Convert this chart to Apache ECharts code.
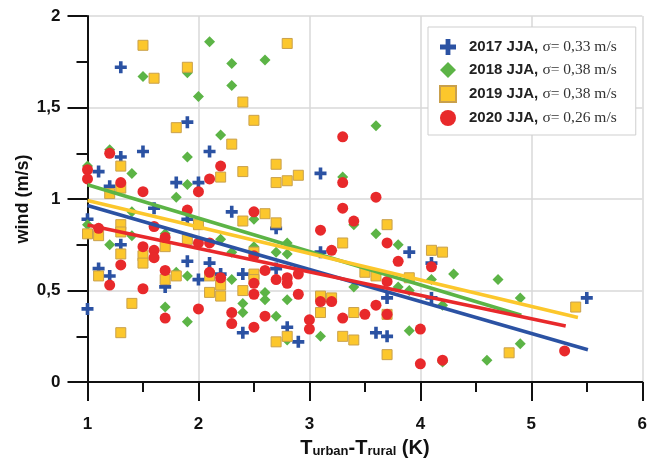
<!DOCTYPE html>
<html>
<head>
<meta charset="utf-8">
<script src="https://cdn.jsdelivr.net/npm/echarts@6/dist/echarts.min.js"></script>
<style>
  html, body { margin: 0; padding: 0; background: #ffffff; }
  #chart { width: 650px; height: 463px; }
</style>
</head>
<body>
<div id="chart"></div>
<script>
// Summer (JJA) wind speed against urban heat island intensity
const seriesNames = ['2017 JJA', '2018 JJA', '2019 JJA', '2020 JJA'];
const sigmaTexts = ['σ= 0,33 m/s', 'σ= 0,38 m/s', 'σ= 0,38 m/s', 'σ= 0,26 m/s'];

const xTickValues = [1, 2, 3, 4, 5, 6];
const xTickLabels = ['1', '2', '3', '4', '5', '6'];
const yTickValues = [0, 0.5, 1, 1.5, 2];
const yTickLabels = ['0', '0,5', '1', '1,5', '2'];

// [Turban - Trural (K), wind (m/s)]
const wind2017 = [
  [1.0, 0.40], [1.0, 0.89], [1.1, 0.62], [1.1, 1.15], [1.2, 0.58], [1.2, 1.07],
  [1.3, 1.72], [1.3, 1.23], [1.3, 0.75], [1.5, 1.26], [1.6, 0.95], [1.7, 0.52],
  [1.8, 1.09], [1.9, 1.42], [1.9, 0.89], [1.9, 0.66], [2.0, 1.09], [2.0, 0.56],
  [2.1, 1.26], [2.1, 0.65], [2.2, 0.59], [2.3, 0.93], [2.4, 0.59], [2.4, 0.27],
  [2.7, 0.84], [2.7, 0.62], [2.8, 0.30], [2.9, 0.22], [3.1, 1.14], [3.1, 0.71],
  [3.6, 0.27], [3.7, 0.46], [3.7, 0.25], [3.9, 0.71], [4.1, 0.46], [4.1, 0.65],
  [5.5, 0.46]
];
const wind2018 = [
  [1.0, 1.18], [1.0, 0.86], [1.2, 1.27], [1.2, 0.75], [1.4, 1.14], [1.4, 0.93],
  [1.4, 0.80], [1.5, 1.67], [1.7, 0.81], [1.7, 0.41], [1.8, 1.01], [1.8, 0.60],
  [1.9, 1.69], [1.9, 1.23], [1.9, 1.08], [1.9, 0.58], [1.9, 0.33], [2.0, 1.56],
  [2.1, 1.86], [2.2, 1.35], [2.2, 0.78], [2.3, 1.74], [2.3, 1.62], [2.3, 0.71],
  [2.3, 0.56], [2.4, 0.43], [2.4, 0.38], [2.5, 0.89], [2.5, 0.74], [2.6, 1.76],
  [2.6, 0.49], [2.6, 0.45], [2.7, 0.71], [2.7, 0.36], [2.8, 0.76], [2.8, 0.70],
  [2.8, 0.45], [2.8, 0.23], [3.1, 0.25], [3.3, 1.12], [3.4, 0.86], [3.4, 0.52],
  [3.6, 1.40], [3.6, 0.81], [3.8, 0.75], [3.8, 0.52], [3.9, 0.50], [3.9, 0.28],
  [4.1, 0.56], [4.2, 0.42], [4.2, 0.11], [4.3, 0.59], [4.6, 0.12], [4.7, 0.56],
  [4.9, 0.46], [4.9, 0.21]
];
const wind2019 = [
  [1.0, 0.81], [1.1, 0.80], [1.1, 0.58], [1.2, 1.03], [1.3, 1.18], [1.3, 1.06],
  [1.3, 0.86], [1.3, 0.82], [1.3, 0.70], [1.3, 0.27], [1.4, 0.43], [1.5, 1.84],
  [1.5, 0.69], [1.5, 0.65], [1.6, 1.66], [1.7, 0.74], [1.7, 0.56], [1.8, 1.39],
  [1.8, 0.58], [1.9, 1.72], [1.9, 0.78], [2.0, 0.86], [2.1, 0.58], [2.1, 0.49],
  [2.2, 1.12], [2.2, 0.53], [2.2, 0.47], [2.3, 1.30], [2.4, 1.53], [2.4, 1.15],
  [2.4, 0.88], [2.4, 0.50], [2.5, 1.43], [2.5, 0.71], [2.5, 0.59], [2.5, 0.56],
  [2.6, 0.92], [2.7, 1.19], [2.7, 1.09], [2.7, 0.87], [2.7, 0.22], [2.8, 1.85],
  [2.8, 1.10], [2.8, 0.25], [2.9, 1.13], [3.1, 0.47], [3.1, 0.38], [3.2, 0.46],
  [3.3, 0.76], [3.3, 0.25], [3.4, 0.38], [3.4, 0.23], [3.5, 0.60], [3.6, 0.58],
  [3.7, 0.86], [3.7, 0.37], [3.7, 0.15], [3.9, 0.57], [4.1, 0.72], [4.2, 0.71],
  [4.8, 0.16], [5.4, 0.41]
];
const wind2020 = [
  [1.0, 1.16], [1.0, 1.11], [1.1, 0.84], [1.2, 1.25], [1.2, 0.53], [1.3, 1.09],
  [1.3, 0.64], [1.5, 1.04], [1.5, 0.74], [1.5, 0.51], [1.6, 0.85], [1.6, 0.72],
  [1.6, 0.68], [1.7, 0.79], [1.7, 0.61], [1.7, 0.35], [1.9, 0.94], [2.0, 1.04],
  [2.0, 0.76], [2.0, 0.40], [2.1, 1.11], [2.1, 0.76], [2.1, 0.60], [2.2, 1.18],
  [2.2, 0.57], [2.3, 0.38], [2.3, 0.32], [2.5, 0.93], [2.5, 0.69], [2.5, 0.54],
  [2.5, 0.48], [2.5, 0.30], [2.6, 0.61], [2.6, 0.36], [2.7, 0.56], [2.8, 0.57],
  [2.8, 0.54], [2.9, 0.59], [2.9, 0.48], [3.0, 0.34], [3.0, 0.29], [3.1, 0.83],
  [3.1, 0.44], [3.2, 0.72], [3.2, 0.44], [3.3, 1.34], [3.3, 1.09], [3.3, 0.95],
  [3.3, 0.35], [3.4, 0.88], [3.5, 0.37], [3.6, 1.01], [3.6, 0.42], [3.7, 0.76],
  [3.7, 0.55], [3.7, 0.37], [3.8, 0.66], [4.0, 0.29], [4.0, 0.10], [4.1, 0.63],
  [4.2, 0.12], [5.3, 0.17]
];

// Linear fit end points for each summer
const fit2017 = [[1.0, 0.965], [5.51, 0.177]];
const fit2018 = [[1.0, 1.078], [4.91, 0.365]];
const fit2019 = [[1.0, 0.992], [5.42, 0.353]];
const fit2020 = [[1.0, 0.858], [5.31, 0.306]];

const colors = ['#2b52a3', '#5cb446', '#fcc72c', '#e8292b'];
// Marker outlines as paths so the legend keeps their proportions
const plusPath = 'path://M3.5,0h3v3.5h3.5v3h-3.5v3.5h-3v-3.5h-3.5v-3h3.5z';
const diamondPath = 'path://M5,0L10,5L5,10L0,5Z';
const squarePath = 'path://M0,0H10V10H0Z';

const chart = echarts.init(document.getElementById('chart'), null, { renderer: 'canvas' });

function scatter(name, data, symbol, size, itemStyle) {
  return {
    name: name,
    type: 'scatter',
    data: data,
    symbol: symbol,
    symbolSize: size,
    itemStyle: Object.assign({ opacity: 1 }, itemStyle),
    z: 2
  };
}
function fitLine(name, data, color, z) {
  return {
    name: name,
    type: 'line',
    data: data,
    showSymbol: false,
    symbol: 'none',
    lineStyle: { color: color, width: 3.5 },
    z: z,
    silent: true
  };
}

const option = {
  animation: false,
  backgroundColor: '#ffffff',
  grid: { left: 87.5, right: 6, top: 16, bottom: 75 },
  xAxis: {
    type: 'value',
    min: 1, max: 6, interval: 1,
    axisLine: { show: true, onZero: false, lineStyle: { color: '#111', width: 2 } },
    axisTick: { show: true, length: 19, lineStyle: { color: '#111', width: 2 } },
    minorTick: { show: true, splitNumber: 2, length: 10, lineStyle: { color: '#111', width: 2 } },
    splitLine: { show: true, lineStyle: { color: '#d9d9d9', width: 1.5 } },
    axisLabel: {
      margin: 34,
      fontFamily: 'Liberation Sans', fontWeight: 'bold', fontSize: 17, color: '#111',
      formatter: v => { const i = xTickValues.indexOf(v); return i >= 0 ? xTickLabels[i] : ''; }
    },
    name: '{t|T}{s|urban}{t|-T}{s|rural}{t| (K)}',
    nameLocation: 'middle',
    nameGap: 50,
    nameTextStyle: {
      rich: {
        t: { fontFamily: 'Liberation Sans', fontWeight: 'bold', fontSize: 20, color: '#111', lineHeight: 24, verticalAlign: 'bottom' },
        s: { fontFamily: 'Liberation Sans', fontWeight: 'bold', fontSize: 13, color: '#111', lineHeight: 13, verticalAlign: 'bottom' }
      }
    }
  },
  yAxis: {
    type: 'value',
    min: 0, max: 2, interval: 0.5,
    axisLine: { show: true, onZero: false, lineStyle: { color: '#111', width: 2 } },
    axisTick: { show: true, length: 20, lineStyle: { color: '#111', width: 2 } },
    minorTick: { show: true, splitNumber: 2, length: 11, lineStyle: { color: '#111', width: 2 } },
    splitLine: { show: true, lineStyle: { color: '#d9d9d9', width: 1.5 } },
    axisLabel: {
      margin: 27,
      fontFamily: 'Liberation Sans', fontWeight: 'bold', fontSize: 17, color: '#111',
      formatter: v => { const i = yTickValues.indexOf(v); return i >= 0 ? yTickLabels[i] : ''; }
    },
    name: 'wind (m/s)',
    nameLocation: 'middle',
    nameGap: 55,
    nameMoveOverlap: false,
    nameTextStyle: { fontFamily: 'Liberation Sans', fontWeight: 'bold', fontSize: 18, color: '#111' }
  },
  legend: {
    data: seriesNames,
    orient: 'vertical',
    left: 428,
    top: 27,
    padding: [12, 19, 9, 11],
    itemWidth: 32,
    itemHeight: 16,
    itemGap: 7,
    symbolKeepAspect: true,
    backgroundColor: '#ffffff',
    borderColor: '#cfcfcf',
    borderWidth: 1,
    formatter: name => '{b|' + name + ',} {s|' + sigmaTexts[seriesNames.indexOf(name)] + '}',
    textStyle: {
      fontSize: 15,
      lineHeight: 16,
      rich: {
        b: { fontFamily: 'Liberation Sans', fontWeight: 'bold', fontSize: 15, color: '#222', lineHeight: 16 },
        s: { fontFamily: 'Liberation Serif', fontSize: 15.5, color: '#333', lineHeight: 16 }
      }
    }
  },
  series: [
    scatter(seriesNames[0], wind2017, plusPath, 12, { color: colors[0] }),
    scatter(seriesNames[1], wind2018, diamondPath, 11, { color: colors[1] }),
    scatter(seriesNames[2], wind2019, squarePath, 10, { color: colors[2], borderColor: '#c9a04c', borderWidth: 1 }),
    scatter(seriesNames[3], wind2020, 'circle', 11, { color: colors[3] }),
    fitLine('fit 2018', fit2018, colors[1], 5),
    fitLine('fit 2019', fit2019, colors[2], 6),
    fitLine('fit 2017', fit2017, colors[0], 7),
    fitLine('fit 2020', fit2020, colors[3], 8)
  ]
};

chart.setOption(option);
</script>
</body>
</html>
